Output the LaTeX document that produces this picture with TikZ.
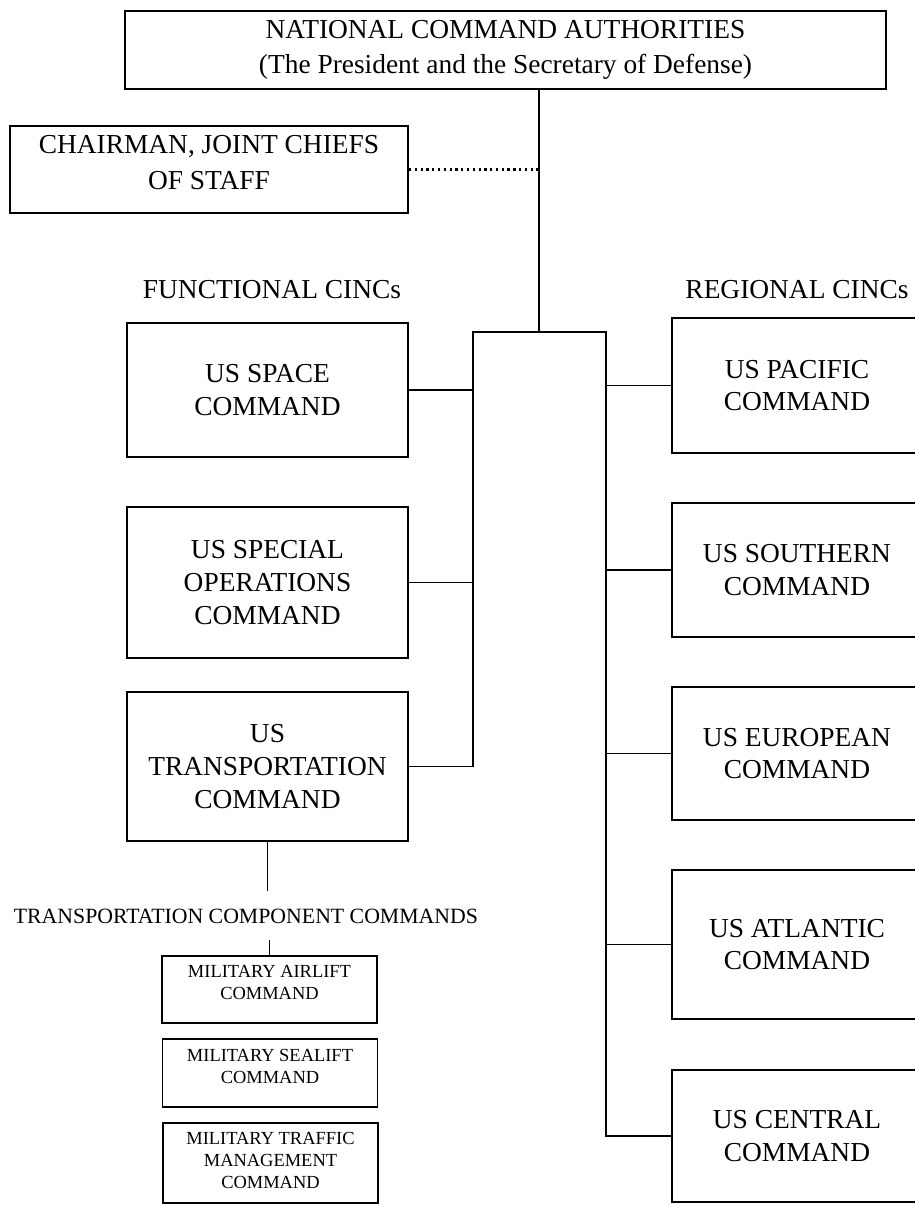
\documentclass[tikz,border=0pt]{standalone}
\usepackage{fontspec}
\setmainfont{Liberation Serif}
\usetikzlibrary{positioning, calc}
\tikzstyle{cmdbox} = [rectangle, draw=black, line width=1.1pt, align=center, inner sep=0pt, font=\fontsize{15.6}{18.7}\selectfont]
\tikzstyle{funcbox} = [cmdbox, minimum width=5.62cm]
\tikzstyle{regbox} = [cmdbox, minimum width=5.0cm]
\tikzstyle{compbox} = [cmdbox, minimum width=4.3cm, text depth=0.28cm, font=\fontsize{10.5}{12.5}\selectfont]
\tikzstyle{grouplabel} = [inner sep=0pt, font=\fontsize{15.6}{18.7}\selectfont]
\tikzstyle{line} = [line width=1.1pt]
\tikzstyle{dotline} = [line width=1.3pt, dotted]

\begin{document}
\begin{tikzpicture}[x=0.02cm, y=-0.02cm]
    \useasboundingbox (0,0) rectangle (914,1205);
    % top of the chain
    \node (nca) [cmdbox, minimum width=15.22cm, minimum height=1.56cm, font=\fontsize{15.6}{19.5}\selectfont] at (505.5,50) {NATIONAL COMMAND AUTHORITIES\\(The President and the Secretary of Defense)};
    \node (cjcs) [cmdbox, minimum width=7.96cm, minimum height=1.74cm, text depth=0.3cm, font=\fontsize{15.6}{20.5}\selectfont] at (209,169.5) {CHAIRMAN, JOINT CHIEFS\\OF STAFF};
    \node (funclabel) [grouplabel] at (272,290) {FUNCTIONAL CINCs};
    \node (reglabel) [grouplabel] at (797,290) {REGIONAL CINCs};

    % functional CINCs
    \node (space) [funcbox, minimum height=2.68cm] at (267.5,390) {US SPACE\\COMMAND};
    \node (specops) [funcbox, minimum height=3.02cm] at (267.5,582.5) {US SPECIAL\\OPERATIONS\\COMMAND};
    \node (trans) [funcbox, minimum height=2.98cm] at (267.5,766.5) {US\\TRANSPORTATION\\COMMAND};

    % regional CINCs
    \node (pacific) [regbox, minimum height=2.7cm] at (797,385.5) {US PACIFIC\\COMMAND};
    \node (southern) [regbox, minimum height=2.68cm] at (797,570) {US SOUTHERN\\COMMAND};
    \node (european) [regbox, minimum height=2.66cm] at (797,753.5) {US EUROPEAN\\COMMAND};
    \node (atlantic) [regbox, minimum height=2.98cm] at (797,944.5) {US ATLANTIC\\COMMAND};
    \node (central) [regbox, minimum height=2.64cm] at (797,1136) {US CENTRAL\\COMMAND};

    % transportation components
    \node (tcc) [grouplabel, font=\fontsize{12.4}{14}\selectfont] at (246,916) {TRANSPORTATION COMPONENT COMMANDS};
    \node (airlift) [compbox, minimum height=1.34cm] at (269.5,989.5) {MILITARY AIRLIFT\\COMMAND};
    \node (sealift) [compbox, minimum height=1.36cm] at (270,1073) {MILITARY SEALIFT\\COMMAND};
    \node (traffic) [compbox, minimum height=1.6cm, text depth=0.1cm] at (270.5,1163) {MILITARY TRAFFIC\\MANAGEMENT\\COMMAND};

    \coordinate (hub) at (539,332);
    \coordinate (bl) at (473,332);
    \coordinate (br) at (606,332);

    \draw [line] (hub |- nca.south) -- (hub);
    \draw [dotline] (cjcs.east) -- (cjcs.east -| hub);
    \draw [line] (trans.east) -| (bl) -- (br) |- (central.west);
    \draw [line] (space.east) -- (space.east -| bl);
    \draw [line] (specops.east) -- (specops.east -| bl);
    \draw [line] (pacific.west) -- (pacific.west -| br);
    \draw [line] (southern.west) -- (southern.west -| br);
    \draw [line] (european.west) -- (european.west -| br);
    \draw [line] (atlantic.west) -- (atlantic.west -| br);
    \draw [line] (trans.south) -- ++(0,49);
    \draw [line] (airlift.north) -- ++(0,-15);
\end{tikzpicture}
\end{document}
